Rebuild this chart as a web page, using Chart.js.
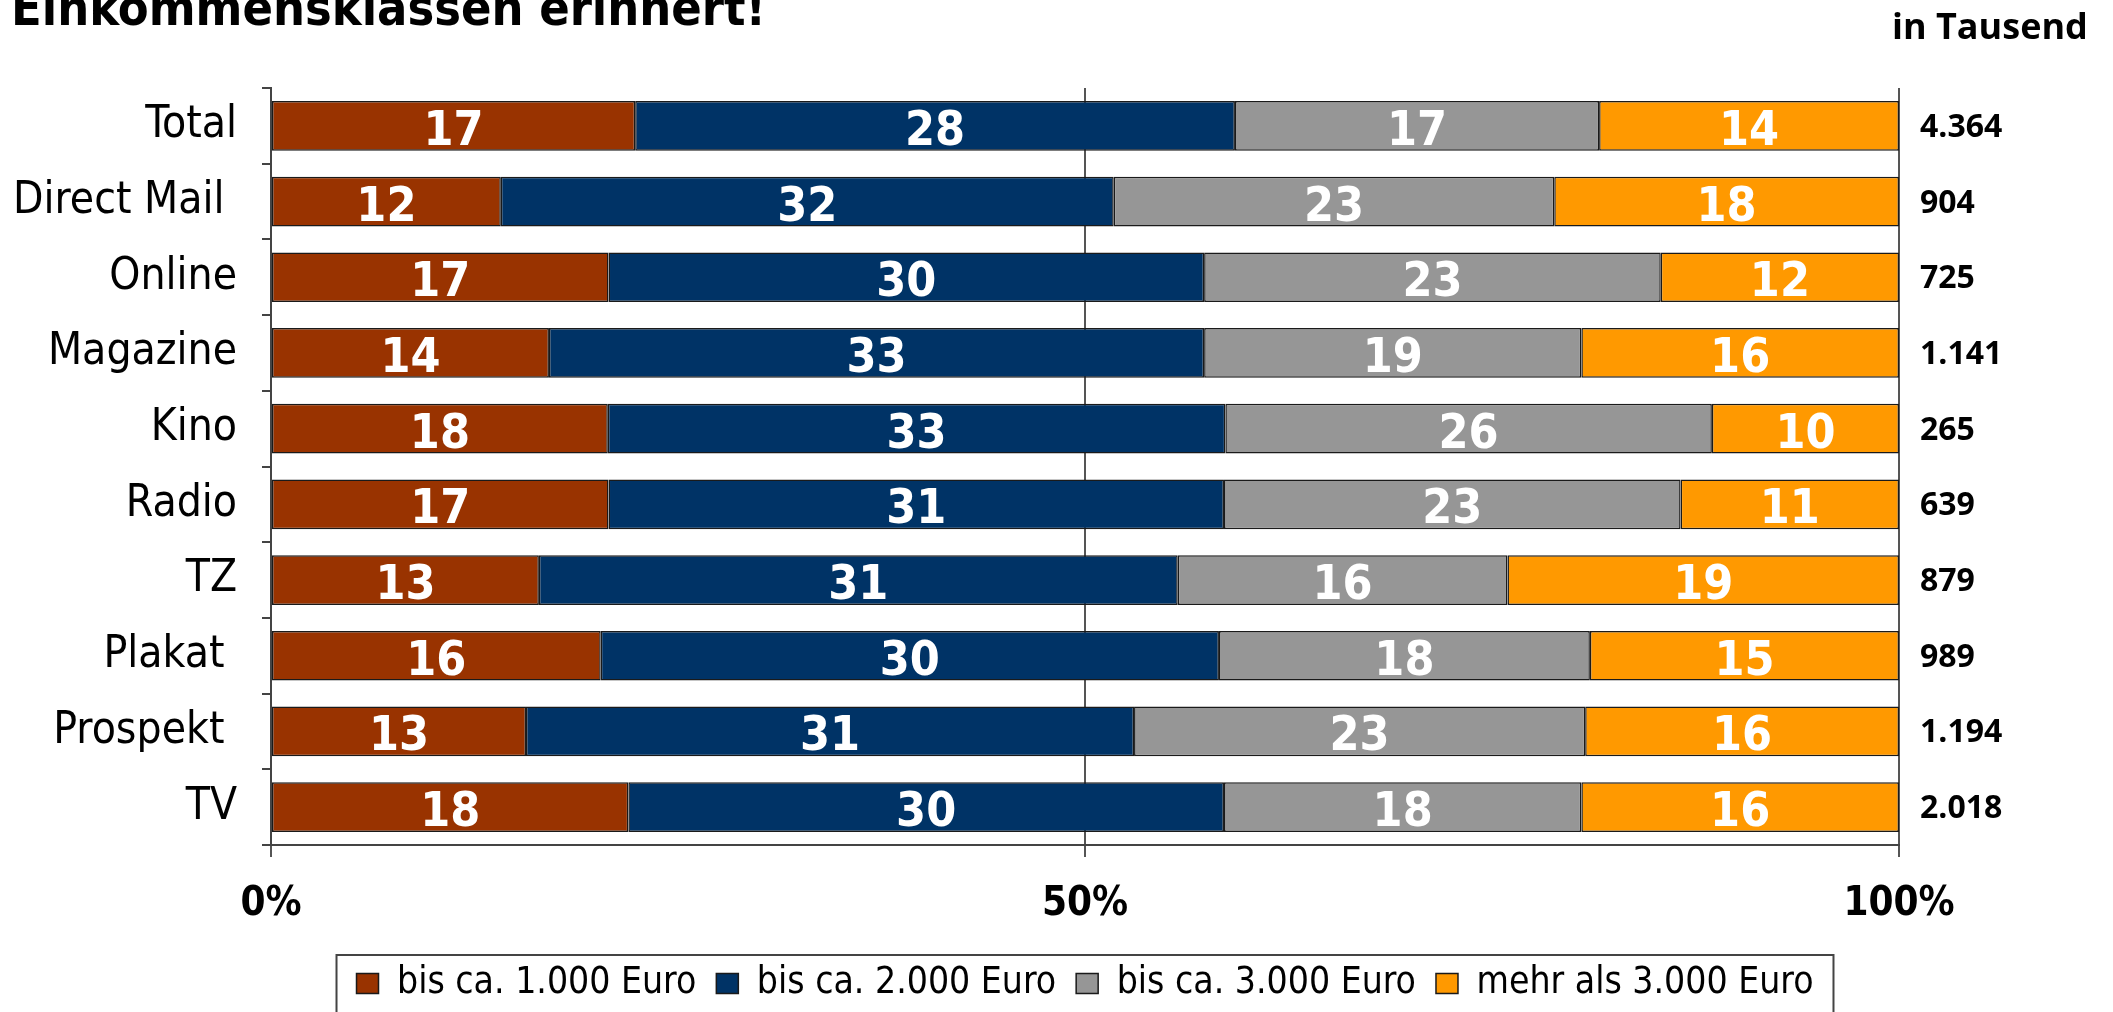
<!DOCTYPE html>
<html>
<head>
<meta charset="utf-8">
<script src="https://cdn.jsdelivr.net/npm/chart.js@4.4.1/dist/chart.umd.min.js"></script>
<style>
  html, body { margin: 0; padding: 0; background: #fff; }
</style>
</head>
<body>
<canvas id="income" width="2113" height="1012"></canvas>
<script>
const categories = ['Total', 'Direct Mail ', 'Online', 'Magazine', 'Kino', 'Radio', 'TZ', 'Plakat ', 'Prospekt ', 'TV'];
const upTo1000 = [17, 12, 17, 14, 18, 17, 13, 16, 13, 18];
const upTo2000 = [28, 32, 30, 33, 33, 31, 31, 30, 31, 30];
const upTo3000 = [17, 23, 23, 19, 26, 23, 16, 18, 23, 18];
const over3000 = [14, 18, 12, 16, 10, 11, 19, 15, 16, 16];
const totalsInThousand = ['4.364', '904', '725', '1.141', '265', '639', '879', '989', '1.194', '2.018'];
const seriesNames = ['bis ca. 1.000 Euro', 'bis ca. 2.000 Euro', 'bis ca. 3.000 Euro', 'mehr als 3.000 Euro'];
const seriesColors = ['#993300', '#003366', '#969696', '#FF9900'];
const titleText = 'Einkommensklassen erinnert!';
const unitText = 'in Tausend';

const FONT = '"DejaVu Sans Condensed", "DejaVu Sans", sans-serif';
const NUM_FONT = '"Open Sans", "Noto Sans", sans-serif';

// each row is shown as 100%, so every segment is its share of the row sum
const allSeries = [upTo1000, upTo2000, upTo3000, over3000];
const rowSums = categories.map((_, i) => allSeries.reduce((s, arr) => s + arr[i], 0));

const datasets = allSeries.map((values, k) => ({
  label: seriesNames[k],
  data: values.map((v, i) => v / rowSums[i] * 100),
  raw: values,
  backgroundColor: seriesColors[k],
  borderColor: '#1a1a1a',
  borderWidth: 1.5,
  borderSkipped: false,
  barPercentage: 0.657,
  categoryPercentage: 1,
}));

// white value labels in the middle of each segment
const segmentLabels = {
  id: 'segmentLabels',
  afterDatasetsDraw(chart) {
    const ctx = chart.ctx;
    ctx.save();
    ctx.fillStyle = '#fff';
    ctx.font = 'bold 48px ' + FONT;
    ctx.textAlign = 'center';
    ctx.textBaseline = 'alphabetic';
    chart.data.datasets.forEach((ds, k) => {
      chart.getDatasetMeta(k).data.forEach((bar, i) => {
        ctx.fillText(String(ds.raw[i]), (bar.x + bar.base) / 2, bar.y + 19);
      });
    });
    ctx.restore();
  }
};

// title, unit and the totals column on the right, plus the legend frame
const extras = {
  id: 'extras',
  afterDraw(chart) {
    const ctx = chart.ctx;
    const yScale = chart.scales.y;
    ctx.save();
    ctx.fillStyle = '#000';
    ctx.textBaseline = 'alphabetic';
    ctx.textAlign = 'left';
    ctx.font = 'bold 50px ' + FONT;
    ctx.fillText(titleText, 11, 25);

    ctx.font = 'bold 36px ' + NUM_FONT;
    ctx.fillText(unitText, 1892, 39);

    ctx.font = 'bold 32px ' + NUM_FONT;
    totalsInThousand.forEach((t, i) => {
      ctx.fillText(t, 1920, yScale.getPixelForValue(i) + 11);
    });

    const boxes = chart.legend.legendHitBoxes;
    if (boxes && boxes.length) {
      const left = Math.min(...boxes.map(b => b.left)) - 20;
      const right = Math.max(...boxes.map(b => b.left + b.width)) + 20;
      ctx.strokeStyle = '#444';
      ctx.lineWidth = 2;
      ctx.strokeRect(left, 955, right - left, 80);
    }
    ctx.restore();
  }
};

new Chart(document.getElementById('income'), {
  type: 'bar',
  data: { labels: categories, datasets: datasets },
  options: {
    indexAxis: 'y',
    responsive: false,
    animation: false,
    layout: { padding: { top: 88, right: 214, left: 0, bottom: 0 } },
    plugins: {
      tooltip: { enabled: false },
      legend: {
        position: 'bottom',
        fullSize: false,
        labels: {
          boxWidth: 22,
          boxHeight: 20,
          padding: 20,
          color: '#000',
          font: { family: FONT, size: 37 },
        },
      },
    },
    scales: {
      x: {
        stacked: true,
        min: 0,
        max: 100,
        ticks: {
          stepSize: 50,
          callback: v => v + '%',
          color: '#000',
          padding: 24,
          font: { family: FONT, size: 40, weight: 'bold' },
        },
        grid: { color: '#555', lineWidth: 2, tickLength: 12 },
        border: { color: '#444', width: 2 },
        afterFit(scale) { scale.height = 100; },
      },
      y: {
        stacked: true,
        ticks: {
          color: '#000',
          padding: 25,
          font: { family: FONT, size: 44 },
        },
        grid: { offset: true, drawOnChartArea: false, tickLength: 9, color: '#444', lineWidth: 2 },
        border: { color: '#444', width: 2 },
        afterFit(scale) { scale.width = 271; },
      },
    },
  },
  plugins: [segmentLabels, extras],
});
</script>
</body>
</html>
